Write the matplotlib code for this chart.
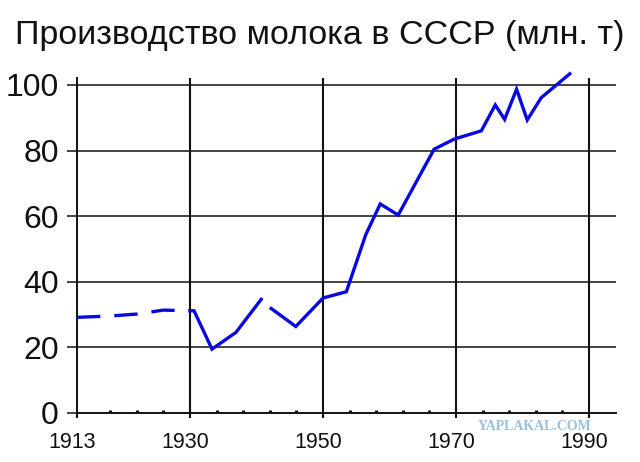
import numpy as np
import matplotlib
matplotlib.use("Agg")
import matplotlib.pyplot as plt
import matplotlib.transforms as mtransforms
from matplotlib.ticker import FixedLocator

plt.rcParams['font.family'] = ['Liberation Sans', 'DejaVu Sans']

# ---- data ----
title = "Производство молока в СССР (млн. т)"
dash_years = [1913, 1918, 1922, 1926, 1930]
dash_values = [29.1, 29.5, 30.1, 31.3, 31.1]

solid_years = [1930, 1930.6, 1933.3, 1936.9, 1940.7, np.nan,
               1942.2, 1945.9, 1950, 1953.5, 1956.4, 1958.6, 1961.3,
               1966.7, 1969.75, 1973.8, 1975.9, 1977.3, 1979.1, 1980.7,
               1982.8, 1987.1]
solid_values = [31.1, 31.1, 19.4, 24.5, 34.6, np.nan,
                31.8, 26.3, 35.0, 36.9, 54.2, 63.7, 60.3,
                80.4, 83.5, 86.0, 93.9, 89.5, 98.7, 89.3,
                96.1, 103.4]

x_ticks = [1913, 1930, 1950, 1970, 1990]
x_tick_labels = ["1913", "1930", "1950", "1970", "1990"]
x_minor = [1918, 1922, 1926, 1934, 1938, 1942, 1946, 1954, 1958, 1962, 1966,
           1974, 1978, 1982, 1986]
y_ticks = [0, 20, 40, 60, 80, 100]
watermark = "YAPLAKAL.COM"

# ---- figure ----
W, H = 640, 462
fig = plt.figure(figsize=(W / 100, H / 100), dpi=100)
left_px, right_px = 77, 616
top_px, bottom_px = 78.4, 412.7
ax = fig.add_axes([left_px / W, 1 - bottom_px / H,
                   (right_px - left_px) / W, (bottom_px - top_px) / H])

ax.set_xlim(1913, 1994.05)
ax.set_ylim(0, 102)

line_color = '#0808e0'
ax.plot(dash_years, dash_values, color=line_color, lw=2.4,
        linestyle=(0, (7.0, 4.2)), solid_capstyle='butt', clip_on=False, zorder=3)
ax.plot(solid_years, solid_values, color=line_color, lw=2.4,
        solid_joinstyle='miter', clip_on=False, zorder=3)

# spines
for s in ['top', 'right']:
    ax.spines[s].set_visible(False)
ax.spines['left'].set_linewidth(1.4)
ax.spines['bottom'].set_linewidth(1.4)
ax.spines['left'].set_color('#111111')
ax.spines['bottom'].set_color('#111111')

# ticks
ax.set_xticks(x_ticks)
ax.set_xticklabels(x_tick_labels)
ax.xaxis.set_minor_locator(FixedLocator(x_minor))
ax.set_yticks(y_ticks)
ax.tick_params(axis='y', which='major', direction='out', length=7.2, width=1.1,
               pad=6, labelsize=23, colors='#111111')
ax.tick_params(axis='x', which='major', direction='out', length=3.6, width=1.5,
               pad=10, labelsize=15.5, colors='#111111')
ax.tick_params(axis='x', which='minor', direction='in', length=2.2, width=2.2,
               colors='#111111')
shift = mtransforms.ScaledTranslation(-4.5 / 100, 0, fig.dpi_scale_trans)
for lab in ax.get_xticklabels():
    lab.set_transform(lab.get_transform() + shift)

# grid: vertical at major years (except left spine), horizontal at y ticks
for yv in y_ticks[1:]:
    ax.axhline(yv, color='#111111', lw=1.1, zorder=1)
for xv in x_ticks[1:]:
    ax.axvline(xv, color='#111111', lw=1.5, zorder=1)

fig.text(0.5, 1 - 44 / H, title, ha='center', va='baseline', fontsize=24.5,
         color='#111111')

fig.text(478 / W, 1 - 426 / H, watermark, ha='left', va='center',
         fontsize=10, fontweight='bold', family=['Liberation Serif', 'DejaVu Serif'],
         color='#7fb0d6', alpha=0.8)

fig.savefig('out.png', dpi=100, facecolor='white')
